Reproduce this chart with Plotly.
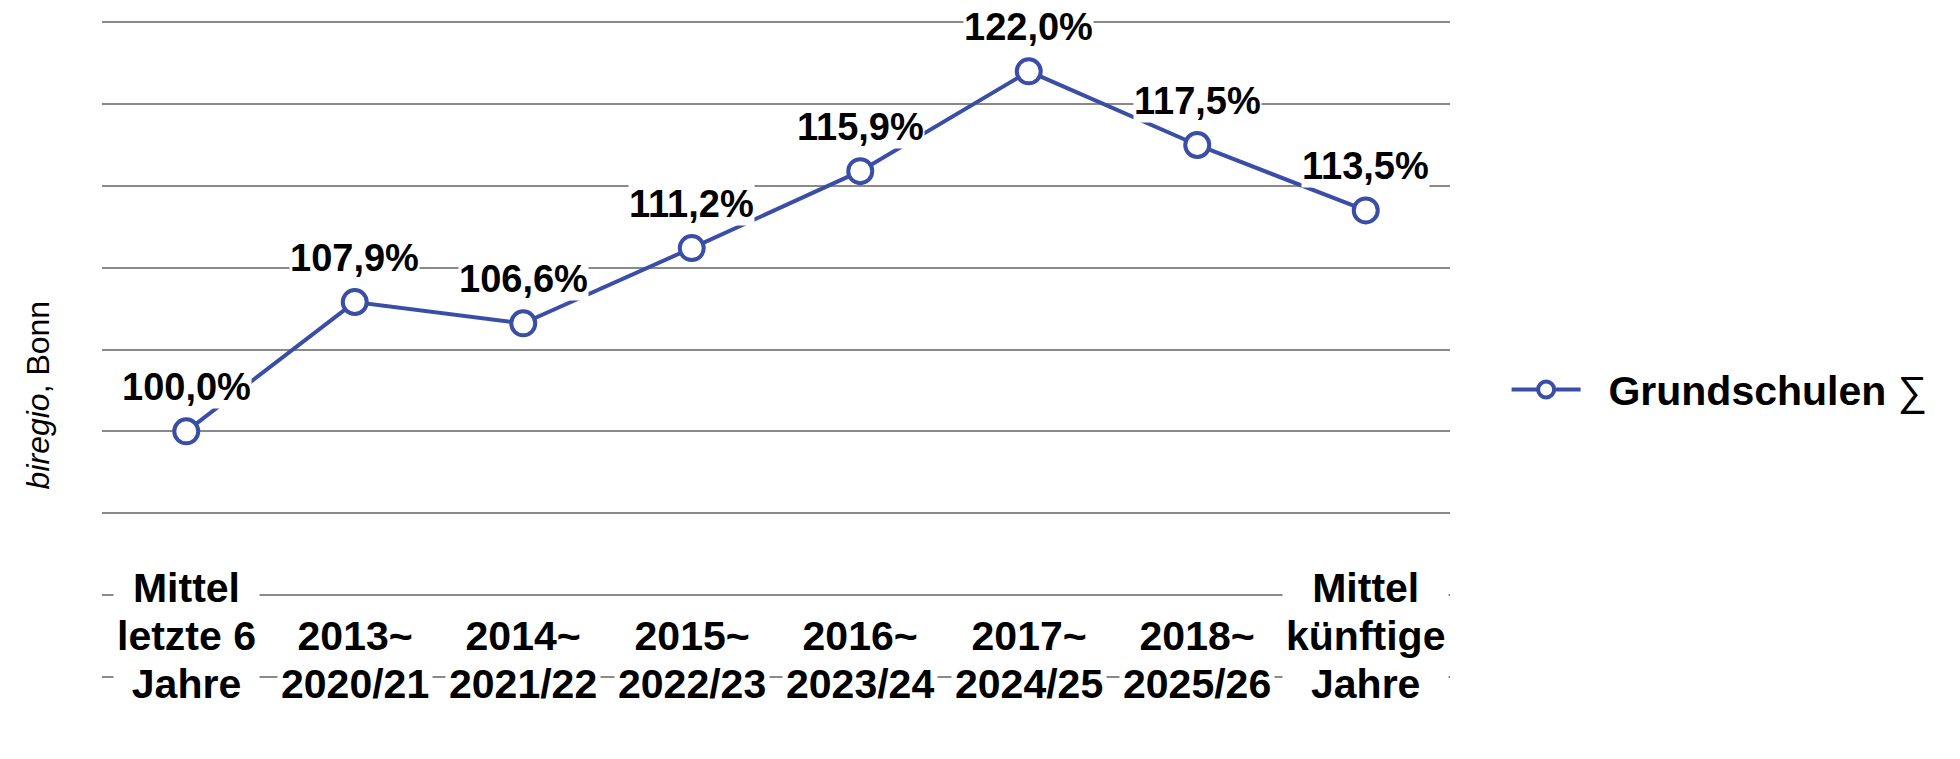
import plotly.graph_objects as go

categories = ["Mittel<br>letzte 6<br>Jahre", "2013~<br>2020/21", "2014~<br>2021/22", "2015~<br>2022/23",
              "2016~<br>2023/24", "2017~<br>2024/25", "2018~<br>2025/26", "Mittel<br>künftige<br>Jahre"]
values = [100.0, 107.9, 106.6, 111.2, 115.9, 122.0, 117.5, 113.5]
series_name = "Grundschulen"
y_title = "<i>biregio</i>, Bonn"

BLUE = "#3A4EA6"
FONT = "Liberation Sans, Arial, sans-serif"
xs = list(range(len(categories)))

fig = go.Figure()
fig.add_trace(go.Scatter(
    x=xs, y=values, mode="lines+markers", name=f"\u00a0\u00a0<b>{series_name}</b> ∑",
    line=dict(color=BLUE, width=4),
    marker=dict(symbol="circle", size=24, color="white", line=dict(color=BLUE, width=4)),
))

annotations = []
for x, v in zip(xs, values):
    annotations.append(dict(
        x=x, y=v, xref="x", yref="y", text="<b>" + f"{v:.1f}".replace(".", ",") + "%</b>",
        showarrow=False, yshift=44, bgcolor="white", borderpad=0,
        font=dict(family=FONT, size=38, color="black"),
    ))
for x, c in zip(xs, categories):
    annotations.append(dict(
        x=x, y=85, xref="x", yref="y", yanchor="bottom", yshift=-34,
        text=f'<b><span style="font-size:41px">{c}</span></b>',
        showarrow=False, bgcolor="white", borderpad=3,
        font=dict(family=FONT, size=37, color="black"),
    ))
annotations.append(dict(
    x=-0.0475, y=0.432, xref="paper", yref="paper", xanchor="center", yanchor="middle",
    text=y_title, textangle=-90,
    showarrow=False, font=dict(family=FONT, size=32, color="black"),
))

fig.update_layout(
    width=1960, height=759,
    margin=dict(l=94, r=518, t=11, b=87),
    paper_bgcolor="white", plot_bgcolor="white",
    showlegend=True,
    legend=dict(x=1.042, y=0.439, xanchor="left", yanchor="middle", itemwidth=69,
                font=dict(family=FONT, size=41, color="black"), bgcolor="rgba(0,0,0,0)"),
    xaxis=dict(range=[-0.5, 7.5], showticklabels=False, showgrid=False, zeroline=False, showline=False, ticks=""),
    yaxis=dict(range=[84.8, 125.2], dtick=5, tick0=85, showticklabels=False, showgrid=True,
               gridcolor="#8a8a8a", gridwidth=2, zeroline=False, showline=False, ticks=""),
    annotations=annotations,
)

fig.write_html("out.html")
